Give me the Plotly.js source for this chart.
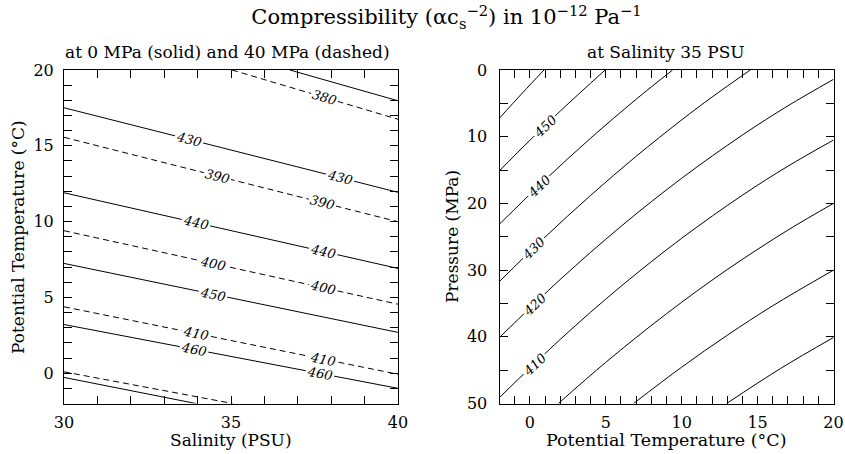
<!DOCTYPE html>
<html>
<head>
<meta charset="utf-8">
<script src="https://cdn.plot.ly/plotly-3.0.1.min.js"></script>
<style>html,body{margin:0;padding:0;background:#fff;}#chart{width:845px;height:454px;}</style>
</head>
<body>
<div id="chart"></div>
<script>
// ---------- DATA ----------
// Left panel: salinity (PSU) vs potential temperature (degC)
const leftSolidLevels = [420, 430, 440, 450, 460, 470];           // 0 MPa
const leftSolidS = [[36.76, 40], [30, 40], [30, 40], [30, 40], [30, 40], [30, 33.95]];
const leftSolidT = [[20, 17.97], [17.51, 11.93], [11.9, 6.91], [7.24, 2.69], [3.21, -1.0], [-0.28, -2]];

const leftDashedLevels = [380, 390, 400, 410, 420];               // 40 MPa
const leftDashedS = [[35.03, 40], [30, 40], [30, 40], [30, 40], [30, 35.05]];
const leftDashedT = [[20, 16.75], [15.56, 9.99], [9.4, 4.55], [4.38, -0.07], [0.09, -2]];

// contour labels, left panel
const leftSolidLabelLevel = [430, 430, 440, 440, 450, 460, 460];
const leftSolidLabelS     = [33.75, 38.25, 33.95, 37.75, 34.45, 33.9, 37.65];
const leftSolidLabelT     = [15.4, 12.9, 9.95, 8.0, 5.2, 1.57, 0.0];
const leftDashedLabelLevel = [380, 390, 390, 400, 400, 410, 410];
const leftDashedLabelS     = [37.8, 34.6, 37.75, 34.45, 37.75, 33.95, 37.75];
const leftDashedLabelT     = [18.2, 13.0, 11.25, 7.25, 5.64, 2.62, 0.93];

// Right panel: potential temperature (degC) vs pressure (MPa), salinity 35 PSU
const rightLevels = [460, 450, 440, 430, 420, 410, 400, 390, 380];
const rightT = [
  [-2, -0.5, 0.93],
  [-2, 0, 2, 4.96],
  [-2, 1, 4, 7, 9.4],
  [-2, 1, 4, 7, 10, 12, 14.52],
  [-2, 2, 6, 10, 14, 17, 20],
  [-2, 2, 6, 10, 14, 17, 20],
  [1.88, 5, 9, 13, 17, 20],
  [6.83, 10, 13, 16, 20],
  [12.96, 16.5, 20]
];
const rightP = [
  [7.2, 3.47, 0],
  [15.1, 10.54, 6.16, 0],
  [23.1, 16.47, 10.23, 4.39, 0],
  [31.7, 25.05, 18.8, 12.94, 7.48, 4.06, 0],
  [40.1, 31.41, 23.45, 16.23, 9.75, 5.37, 1.4],
  [49.1, 40.39, 32.43, 25.23, 18.77, 14.42, 10.5],
  [50, 43.83, 36.54, 29.92, 24.0, 20.0],
  [50, 44.55, 39.77, 35.34, 30.0],
  [50, 44.77, 40.1]
];
const rightLabelLevel = [450, 440, 430, 420, 410];
const rightLabelT     = [1.0, 0.6, 0.25, 0.34, 0.34];
const rightLabelP     = [8.4, 17.4, 26.8, 35.2, 44.2];

// ticks (labelled major ticks; unlabelled minor ticks every 1 unit / 5 MPa)
const leftXTicks  = [30, 35, 40];
const leftYTicks  = [0, 5, 10, 15, 20];
const rightXTicks = [0, 5, 10, 15, 20];
const rightYTicks = [0, 10, 20, 30, 40, 50];

// ---------- LAYOUT GEOMETRY ----------
const W = 845, H = 454;
const FONT = 'DejaVu Serif';
const dxL = [64 / W, 398 / W];
const dxR = [499.5 / W, 833.5 / W];
const dy  = [1 - 403.5 / H, 1 - 70 / H];
const rangeXL = [30, 40], rangeYL = [-2, 20];
const rangeXR = [-2, 20], rangeYR = [50, 0];

function pxPerUnit(domain, range, total) {
  return (domain[1] - domain[0]) * total / (range[1] - range[0]);
}
const sxL = pxPerUnit(dxL, rangeXL, W), syL = pxPerUnit(dy, rangeYL, H);
const sxR = pxPerUnit(dxR, rangeXR, W), syR = pxPerUnit(dy, rangeYR, H);

// angle of the line at a label (degrees, clockwise positive as plotly textangle)
function angleAt(xs, ys, x, sx, sy) {
  let i = 0;
  for (let k = 0; k < xs.length - 1; k++) { if (x >= xs[k]) i = k; }
  const ddx = (xs[i + 1] - xs[i]) * sx;
  const ddy = (ys[i + 1] - ys[i]) * sy; // positive => up on screen
  return -Math.atan2(ddy, ddx) * 180 / Math.PI;
}

const traces = [];
leftSolidLevels.forEach((lv, i) => {
  traces.push({x: leftSolidS[i], y: leftSolidT[i], type: 'scatter', mode: 'lines',
    line: {color: '#000', width: 1}, xaxis: 'x', yaxis: 'y', name: lv + ' (0 MPa)', hoverinfo: 'skip'});
});
leftDashedLevels.forEach((lv, i) => {
  traces.push({x: leftDashedS[i], y: leftDashedT[i], type: 'scatter', mode: 'lines',
    line: {color: '#000', width: 1, dash: '6px,4px'}, xaxis: 'x', yaxis: 'y', name: lv + ' (40 MPa)', hoverinfo: 'skip'});
});
rightLevels.forEach((lv, i) => {
  traces.push({x: rightT[i], y: rightP[i], type: 'scatter', mode: 'lines',
    line: {color: '#000', width: 1, shape: 'spline', smoothing: 1}, xaxis: 'x2', yaxis: 'y2', name: String(lv), hoverinfo: 'skip'});
});

const annotations = [];
function contourLabel(text, x, y, ang, xref, yref) {
  annotations.push({text: '<i>' + text + '</i>', x: x, y: y, xref: xref, yref: yref,
    showarrow: false, textangle: ang, bgcolor: '#fff', borderpad: 1,
    font: {family: FONT, size: 13, color: '#000'}, xanchor: 'center', yanchor: 'middle'});
}
leftSolidLabelLevel.forEach((lv, i) => {
  const li = leftSolidLevels.indexOf(lv);
  contourLabel(lv, leftSolidLabelS[i], leftSolidLabelT[i],
    angleAt(leftSolidS[li], leftSolidT[li], leftSolidLabelS[i], sxL, syL), 'x', 'y');
});
leftDashedLabelLevel.forEach((lv, i) => {
  const li = leftDashedLevels.indexOf(lv);
  contourLabel(lv, leftDashedLabelS[i], leftDashedLabelT[i],
    angleAt(leftDashedS[li], leftDashedT[li], leftDashedLabelS[i], sxL, syL), 'x', 'y');
});
rightLabelLevel.forEach((lv, i) => {
  const li = rightLevels.indexOf(lv);
  contourLabel(lv, rightLabelT[i], rightLabelP[i],
    angleAt(rightT[li], rightP[li], rightLabelT[i], sxR, syR), 'x2', 'y2');
});

function txt(text, x, y, size, ang) {
  annotations.push({text: text, x: x, y: y, xref: 'paper', yref: 'paper', showarrow: false,
    textangle: ang || 0, xanchor: 'center', yanchor: 'middle',
    font: {family: FONT, size: size, color: '#000'}});
}
txt('at 0 MPa (solid) and 40 MPa (dashed)', 227.5 / W, 1 - 52 / H, 17);
txt('at Salinity 35 PSU', 665.5 / W, 1 - 52 / H, 17);
txt('Salinity (PSU)', 231 / W, 1 - 440 / H, 17);
txt('Potential Temperature (°C)', 666.5 / W, 1 - 440 / H, 17.5);
txt('Potential Temperature (°C)', 18 / W, 1 - 237 / H, 17, -90);
txt('Pressure (MPa)', 452 / W, 1 - 237 / H, 17, -90);

function axis(domain, range, tv, minorStep, anchor, standoff) {
  return {domain: domain, range: range, anchor: anchor, tickmode: 'array', tickvals: tv,
    ticks: 'inside', ticklen: 8, tickwidth: 1, tickcolor: '#000', showline: true, linecolor: '#000',
    linewidth: 1, mirror: 'ticks', showgrid: false, zeroline: false, fixedrange: true,
    minor: {dtick: minorStep, tick0: 0, ticks: 'inside', ticklen: 8, tickwidth: 1, tickcolor: '#000', showgrid: false},
    ticklabelstandoff: standoff, tickfont: {family: FONT, size: 16, color: '#000'}};
}

const layout = {
  width: W, height: H, margin: {l: 0, r: 0, t: 0, b: 0},
  paper_bgcolor: '#fff', plot_bgcolor: '#fff', showlegend: false,
  title: {text: 'Compressibility (αc<sub>s</sub><sup>−2</sup>) in 10<sup>−12</sup> Pa<sup>−1</sup>',
    x: 446.5 / W, xanchor: 'center', y: 1 - 17 / H, yanchor: 'middle',
    font: {family: FONT, size: 21, color: '#000'}},
  xaxis: axis(dxL, rangeXL, leftXTicks, 1, 'y', 4),
  yaxis: axis(dy, rangeYL, leftYTicks, 1, 'x', 6),
  xaxis2: axis(dxR, rangeXR, rightXTicks, 1, 'y2', 4),
  yaxis2: axis(dy, rangeYR, rightYTicks, 5, 'x2', 8),
  annotations: annotations
};

Plotly.newPlot('chart', traces, layout, {staticPlot: true, displayModeBar: false});
</script>
</body>
</html>
